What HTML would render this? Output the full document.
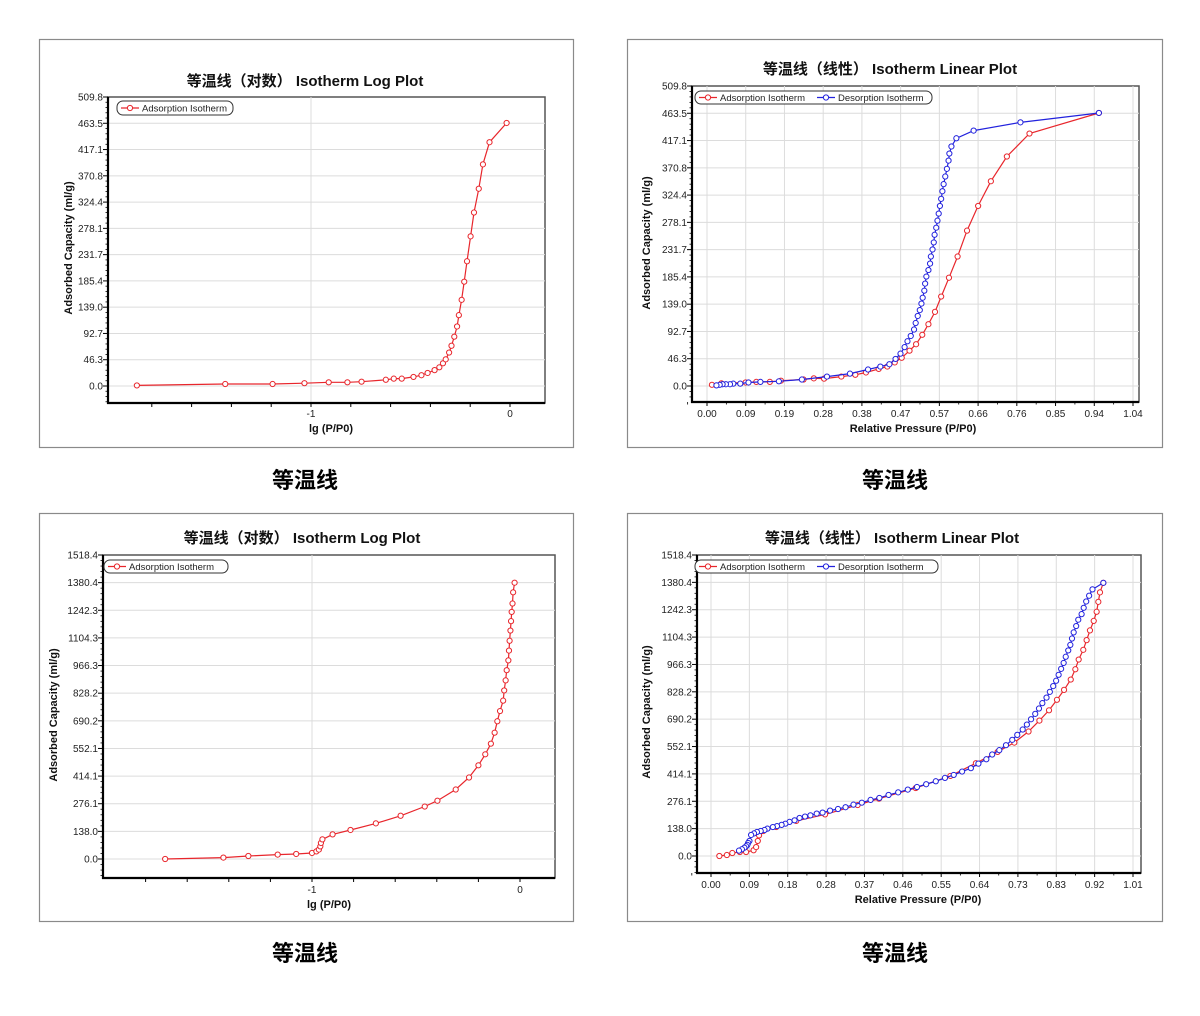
<!DOCTYPE html>
<html><head><meta charset="utf-8"><title>Isotherm plots</title>
<style>
html,body{margin:0;padding:0;background:#fff;}
svg{display:block;font-family:"Liberation Sans","Noto Sans CJK SC",sans-serif;}
</style></head>
<body>
<svg id="page" width="1200" height="1016" viewBox="0 0 1200 1016" xmlns="http://www.w3.org/2000/svg">
<rect x="0" y="0" width="1200" height="1016" fill="#fff"/>
<text x="305" y="488" text-anchor="middle" font-size="22" font-weight="bold" font-family="'Noto Sans CJK SC',sans-serif">等温线</text>
<text x="895" y="488" text-anchor="middle" font-size="22" font-weight="bold" font-family="'Noto Sans CJK SC',sans-serif">等温线</text>
<text x="305" y="961" text-anchor="middle" font-size="22" font-weight="bold" font-family="'Noto Sans CJK SC',sans-serif">等温线</text>
<text x="895" y="961" text-anchor="middle" font-size="22" font-weight="bold" font-family="'Noto Sans CJK SC',sans-serif">等温线</text>
</svg>
<script>
// ---- Chart 1 (log, top-left) ----
const p1X = [-1.875,-1.431,-1.193,-1.033,-0.911,-0.817,-0.746,-0.624,-0.584,-0.544,-0.485,-0.445,-0.414,-0.379,-0.355,-0.337,-0.323,-0.306,-0.294,-0.280,-0.266,-0.257,-0.243,-0.230,-0.216,-0.198,-0.181,-0.157,-0.136,-0.103,-0.017];
const p1Y = [1,3.5,3.5,5,6.5,6.5,7.6,11,13,13,16,19,23,28,33,40,47,59,71,87,105,125,152,184,220,264,306,348,391,430,464];
const p1YTicks = ["0.0","46.3","92.7","139.0","185.4","231.7","278.1","324.4","370.8","417.1","463.5","509.8"];
const p1XTicks = ["-1","0"];
// ---- Chart 2 (linear, top-right) ----
const p2AdsX = [0.012,0.035,0.094,0.12,0.153,0.18,0.235,0.26,0.285,0.327,0.361,0.387,0.418,0.439,0.457,0.474,0.493,0.509,0.524,0.539,0.555,0.570,0.589,0.610,0.633,0.660,0.691,0.730,0.785,0.954];
const p2AdsY = [2,4.5,6,7,7,9,11,13,12.5,16,19,23,29,33,40,48,60,71,87,105,126,152,184,220,264,306,348,390,429,464];
const p2DesX = [0.954,0.763,0.649,0.607,0.595,0.590,0.588,0.584,0.580,0.576,0.573,0.570,0.567,0.564,0.561,0.558,0.554,0.552,0.549,0.545,0.543,0.539,0.534,0.531,0.529,0.525,0.522,0.518,0.513,0.508,0.504,0.496,0.488,0.481,0.471,0.459,0.444,0.422,0.392,0.348,0.292,0.231,0.175,0.130,0.101,0.081,0.064,0.056,0.046,0.038,0.031,0.023];
const p2DesY = [464,448,434,421,407,395,383,369,356,343,331,318,306,293,281,269,257,244,232,220,208,197,186,174,162,150,140,129,119,107,96,85,76,66,55,46,37,33,28,21,16,11,8,7,6,4,4,3,3,3,2,1];
const p2YTicks = ["0.0","46.3","92.7","139.0","185.4","231.7","278.1","324.4","370.8","417.1","463.5","509.8"];
const p2XTicks = ["0.00","0.09","0.19","0.28","0.38","0.47","0.57","0.66","0.76","0.85","0.94","1.04"];
// ---- Chart 3 (log, bottom-left) ----
const p3X = [-1.706,-1.426,-1.306,-1.165,-1.076,-1.0,-0.979,-0.967,-0.960,-0.957,-0.950,-0.901,-0.815,-0.693,-0.574,-0.458,-0.397,-0.309,-0.245,-0.200,-0.167,-0.140,-0.122,-0.109,-0.096,-0.081,-0.076,-0.069,-0.064,-0.056,-0.053,-0.050,-0.046,-0.043,-0.040,-0.036,-0.033,-0.026];
const p3Y = [0,7,15,22,25,30,38,47,63,80,98,123,145,178,216,262,291,347,407,468,523,576,631,688,739,791,842,892,943,992,1041,1090,1141,1188,1234,1276,1332,1380];
const p3YTicks = ["0.0","138.0","276.1","414.1","552.1","690.2","828.2","966.3","1104.3","1242.3","1380.4","1518.4"];
const p3XTicks = ["-1","0"];
// ---- Chart 4 (linear, bottom-right) ----
const p4AdsX = [0.020,0.038,0.051,0.069,0.084,0.102,0.108,0.112,0.115,0.125,0.156,0.204,0.273,0.351,0.402,0.490,0.573,0.634,0.686,0.726,0.760,0.786,0.809,0.828,0.845,0.861,0.872,0.880,0.891,0.899,0.907,0.916,0.923,0.927,0.931,0.939];
const p4AdsY = [0,5,15,20,20,29,45,76,104,126,146,177,210,257,289,343,404,468,525,572,628,683,735,788,838,890,942,991,1040,1089,1138,1186,1232,1282,1330,1378];
const p4DesX = [0.939,0.913,0.905,0.898,0.892,0.887,0.879,0.874,0.868,0.864,0.860,0.855,0.849,0.844,0.838,0.832,0.826,0.819,0.811,0.803,0.793,0.785,0.776,0.766,0.756,0.746,0.733,0.721,0.706,0.690,0.673,0.659,0.640,0.622,0.601,0.581,0.560,0.538,0.515,0.493,0.471,0.448,0.425,0.403,0.382,0.361,0.341,0.322,0.304,0.285,0.267,0.253,0.238,0.225,0.212,0.200,0.188,0.178,0.169,0.158,0.148,0.135,0.128,0.119,0.110,0.103,0.096,0.092,0.089,0.087,0.084,0.080,0.074,0.067];
const p4DesY = [1378,1345,1313,1284,1252,1220,1192,1160,1128,1097,1065,1037,1005,974,944,914,884,857,828,799,771,744,717,690,663,638,611,586,559,534,512,488,466,443,426,409,394,377,362,348,335,321,308,293,283,269,259,246,237,229,219,214,205,199,192,180,172,163,157,151,146,138,131,126,121,114,106,76,66,56,49,42,34,27];
const p4YTicks = ["0.0","138.0","276.1","414.1","552.1","690.2","828.2","966.3","1104.3","1242.3","1380.4","1518.4"];
const p4XTicks = ["0.00","0.09","0.18","0.28","0.37","0.46","0.55","0.64","0.73","0.83","0.92","1.01"];

const NS = "http://www.w3.org/2000/svg";
const svg = document.getElementById('page');
function mk(tag, attrs, parent){
  const e = document.createElementNS(NS, tag);
  for (const k in attrs) e.setAttribute(k, attrs[k]);
  (parent||svg).appendChild(e);
  return e;
}
function lin(d0,d1,r0,r1){ return v => r0 + (v-d0)/(d1-d0)*(r1-r0); }

const charts = [
 {id:'log-top', frame:[39,39,534,408], L:108,R:545,T:97,B:403, log:true,
  xs:lin(-1,0,311,510), yMax:509.8, y0:386, yTop:97, yTicks:p1YTicks, xTicks:p1XTicks, xTickVals:[-1,0],
  minorX:[-1.8,-1.6,-1.4,-1.2,-1,-0.8,-0.6,-0.4,-0.2,0], title:"等温线（对数） Isotherm Log Plot", tx:305, ty:86,
  leg:[117,101,116,14], ylx:72, yly:248, xl:"lg (P/P0)", xlx:331, xly:432, xtly:417,
  series:[{x:p1X,y:p1Y,c:'#e8262c',n:'adsorption'}]},
 {id:'linear-top', frame:[627,39,535,408], L:692,R:1139,T:86,B:402, log:false,
  xs:lin(0,1.037,707,1133), yMax:509.8, y0:386, yTop:86, yTicks:p2YTicks, xTicks:p2XTicks, xTickVals:null, xMax:1.037,
  title:"等温线（线性） Isotherm Linear Plot", tx:890, ty:74,
  leg:[695,91,237,13], ylx:650, yly:243, xl:"Relative Pressure (P/P0)", xlx:913, xly:432, xtly:417,
  series:[{x:p2AdsX,y:p2AdsY,c:'#e8262c',n:'adsorption'},{x:p2DesX,y:p2DesY,c:'#2222dd',n:'desorption'}]},
 {id:'log-bottom', frame:[39,513,534,408], L:103,R:555,T:555,B:878, log:true,
  xs:lin(-1,0,312,520), yMax:1518.4, y0:859, yTop:555, yTicks:p3YTicks, xTicks:p3XTicks, xTickVals:[-1,0],
  minorX:[-1.8,-1.6,-1.4,-1.2,-1,-0.8,-0.6,-0.4,-0.2,0], title:"等温线（对数） Isotherm Log Plot", tx:302, ty:543,
  leg:[104,560,124,13], ylx:57, yly:715, xl:"lg (P/P0)", xlx:329, xly:908, xtly:893,
  series:[{x:p3X,y:p3Y,c:'#e8262c',n:'adsorption'}]},
 {id:'linear-bottom', frame:[627,513,535,408], L:697,R:1141,T:555,B:873, log:false,
  xs:lin(0,1.01,711,1133), yMax:1518.4, y0:856, yTop:555, yTicks:p4YTicks, xTicks:p4XTicks, xTickVals:null, xMax:1.01,
  title:"等温线（线性） Isotherm Linear Plot", tx:892, ty:543,
  leg:[695,560,243,13], ylx:650, yly:712, xl:"Relative Pressure (P/P0)", xlx:918, xly:903, xtly:888,
  series:[{x:p4AdsX,y:p4AdsY,c:'#e8262c',n:'adsorption'},{x:p4DesX,y:p4DesY,c:'#2222dd',n:'desorption'}]}
];

charts.forEach(ch => {
  const g = mk('g', {});
  
  
  const f = mk('rect', {x:ch.frame[0]+0.5,y:ch.frame[1]+0.5,width:ch.frame[2],height:ch.frame[3],fill:'#fff',stroke:'#8a8a8a','stroke-width':1.2}, g);
  
  
  const ys = lin(0, ch.yMax, ch.y0, ch.yTop);
  const xs = ch.xs;
  // plot area
  const pa = mk('rect', {x:ch.L,y:ch.T,width:ch.R-ch.L,height:ch.B-ch.T,fill:'#fff',stroke:'#555','stroke-width':1.5}, g);
  
  
  // y grid & ticks
  const n = ch.yTicks.length - 1;
  ch.yTicks.forEach((lab, i) => {
    const v = ch.yMax * i / n;
    const y = ys(v);
    if (i < n) {
      const gl = mk('line', {x1:ch.L,x2:ch.R,y1:y,y2:y,stroke:'#dcdcdc','stroke-width':1}, g);
      
      
    }
    mk('line', {x1:ch.L-5,x2:ch.L,y1:y,y2:y,stroke:'#000','stroke-width':1}, g);
    const t = mk('text', {x:ch.L-5,y:y+3.5,'text-anchor':'end','font-size':10,fill:'#222'}, g);
    t.textContent = lab;
    
    
    if (i < n) {
      for (let k = 1; k < 5; k++) {
        const ym = ys(v + ch.yMax/n*k/5);
        mk('line', {x1:ch.L-2.5,x2:ch.L,y1:ym,y2:ym,stroke:'#000','stroke-width':0.8}, g);
      }
    }
  });
  for (let k = 1; k < 5; k++) {
    const ym = ys(-ch.yMax/n*k/5);
    if (ym < ch.B) mk('line', {x1:ch.L-2.5,x2:ch.L,y1:ym,y2:ym,stroke:'#000','stroke-width':0.8}, g);
  }
  // x grid & ticks
  if (ch.log) {
    ch.minorX.forEach(v => {
      const x = xs(v);
      mk('line', {x1:x,x2:x,y1:ch.B,y2:ch.B+4,stroke:'#000','stroke-width':1}, g);
    });
    ch.xTickVals.forEach((v, i) => {
      const x = xs(v);
      if (i === 0) {
        const gl = mk('line', {x1:x,x2:x,y1:ch.T,y2:ch.B,stroke:'#dcdcdc','stroke-width':1}, g);
        
        
      }
      const t = mk('text', {x:x,y:ch.xtly,'text-anchor':'middle','font-size':10,fill:'#222'}, g);
      t.textContent = ch.xTicks[i];
      
      
    });
  } else {
    const m = ch.xTicks.length - 1;
    ch.xTicks.forEach((lab, i) => {
      const v = ch.xMax * i / m;
      const x = xs(v);
      const gl = mk('line', {x1:x,x2:x,y1:ch.T,y2:ch.B,stroke:'#dcdcdc','stroke-width':1}, g);
      
      
      mk('line', {x1:x,x2:x,y1:ch.B,y2:ch.B+4,stroke:'#000','stroke-width':1}, g);
      const xm = xs(v + ch.xMax/m/2);
      if (xm < ch.R) mk('line', {x1:xm,x2:xm,y1:ch.B,y2:ch.B+2.5,stroke:'#000','stroke-width':0.8}, g);
      const t = mk('text', {x:x,y:ch.xtly,'text-anchor':'middle','font-size':10,fill:'#222'}, g);
      t.textContent = lab;
      
      
    });
    const xm0 = xs(-ch.xMax/m/2);
    mk('line', {x1:xm0,x2:xm0,y1:ch.B,y2:ch.B+2.5,stroke:'#000','stroke-width':0.8}, g);
  }
  // axes
  const ax1 = mk('line', {x1:ch.L,x2:ch.L,y1:ch.T,y2:ch.B+1,stroke:'#000','stroke-width':2.2}, g);
  
  
  const ax2 = mk('line', {x1:ch.L-1,x2:ch.R,y1:ch.B,y2:ch.B,stroke:'#000','stroke-width':2.2}, g);
  
  
  // series
  ch.series.forEach(s => {
    const pts = s.x.map((v, i) => xs(v).toFixed(1) + ',' + ys(s.y[i]).toFixed(1)).join(' ');
    const pl = mk('polyline', {points:pts,fill:'none',stroke:s.c,'stroke-width':1.2}, g);
    
    
    s.x.forEach((v, i) => {
      const c = mk('circle', {cx:xs(v),cy:ys(s.y[i]),r:2.6,fill:'#fff',stroke:s.c,'stroke-width':1}, g);
      
      
    });
  });
  // legend
  const lg = mk('g', {}, g);
  
  
  const [lx, ly, lw, lh] = ch.leg;
  mk('rect', {x:lx,y:ly,width:lw,height:lh,rx:6,fill:'#fff',stroke:'#333','stroke-width':1}, lg);
  let cx = lx + 4;
  ch.series.forEach(s => {
    const ent = mk('g', {}, lg);
    
    
    const my = ly + lh/2;
    mk('line', {x1:cx,x2:cx+18,y1:my,y2:my,stroke:s.c,'stroke-width':1.2}, ent);
    mk('circle', {cx:cx+9,cy:my,r:2.6,fill:'#fff',stroke:s.c,'stroke-width':1}, ent);
    const t = mk('text', {x:cx+21,y:my+3.5,'font-size':9.5,fill:'#222'}, ent);
    t.textContent = s.n === 'adsorption' ? 'Adsorption Isotherm' : 'Desorption Isotherm';
    cx += 118;
  });
  // titles & axis labels
  const tt = mk('text', {x:ch.tx,y:ch.ty,'text-anchor':'middle','font-size':15,'font-weight':'bold',fill:'#111'}, g);
  tt.textContent = ch.title;
  
  
  const yl = mk('text', {x:0,y:0,'text-anchor':'middle','font-size':11,'font-weight':'bold',fill:'#111',transform:`translate(${ch.ylx},${ch.yly}) rotate(-90)`}, g);
  yl.textContent = 'Adsorbed Capacity (ml/g)';
  
  
  const xl = mk('text', {x:ch.xlx,y:ch.xly,'text-anchor':'middle','font-size':11,'font-weight':'bold',fill:'#111'}, g);
  xl.textContent = ch.xl;
  
  
});
</script>
</body></html>
